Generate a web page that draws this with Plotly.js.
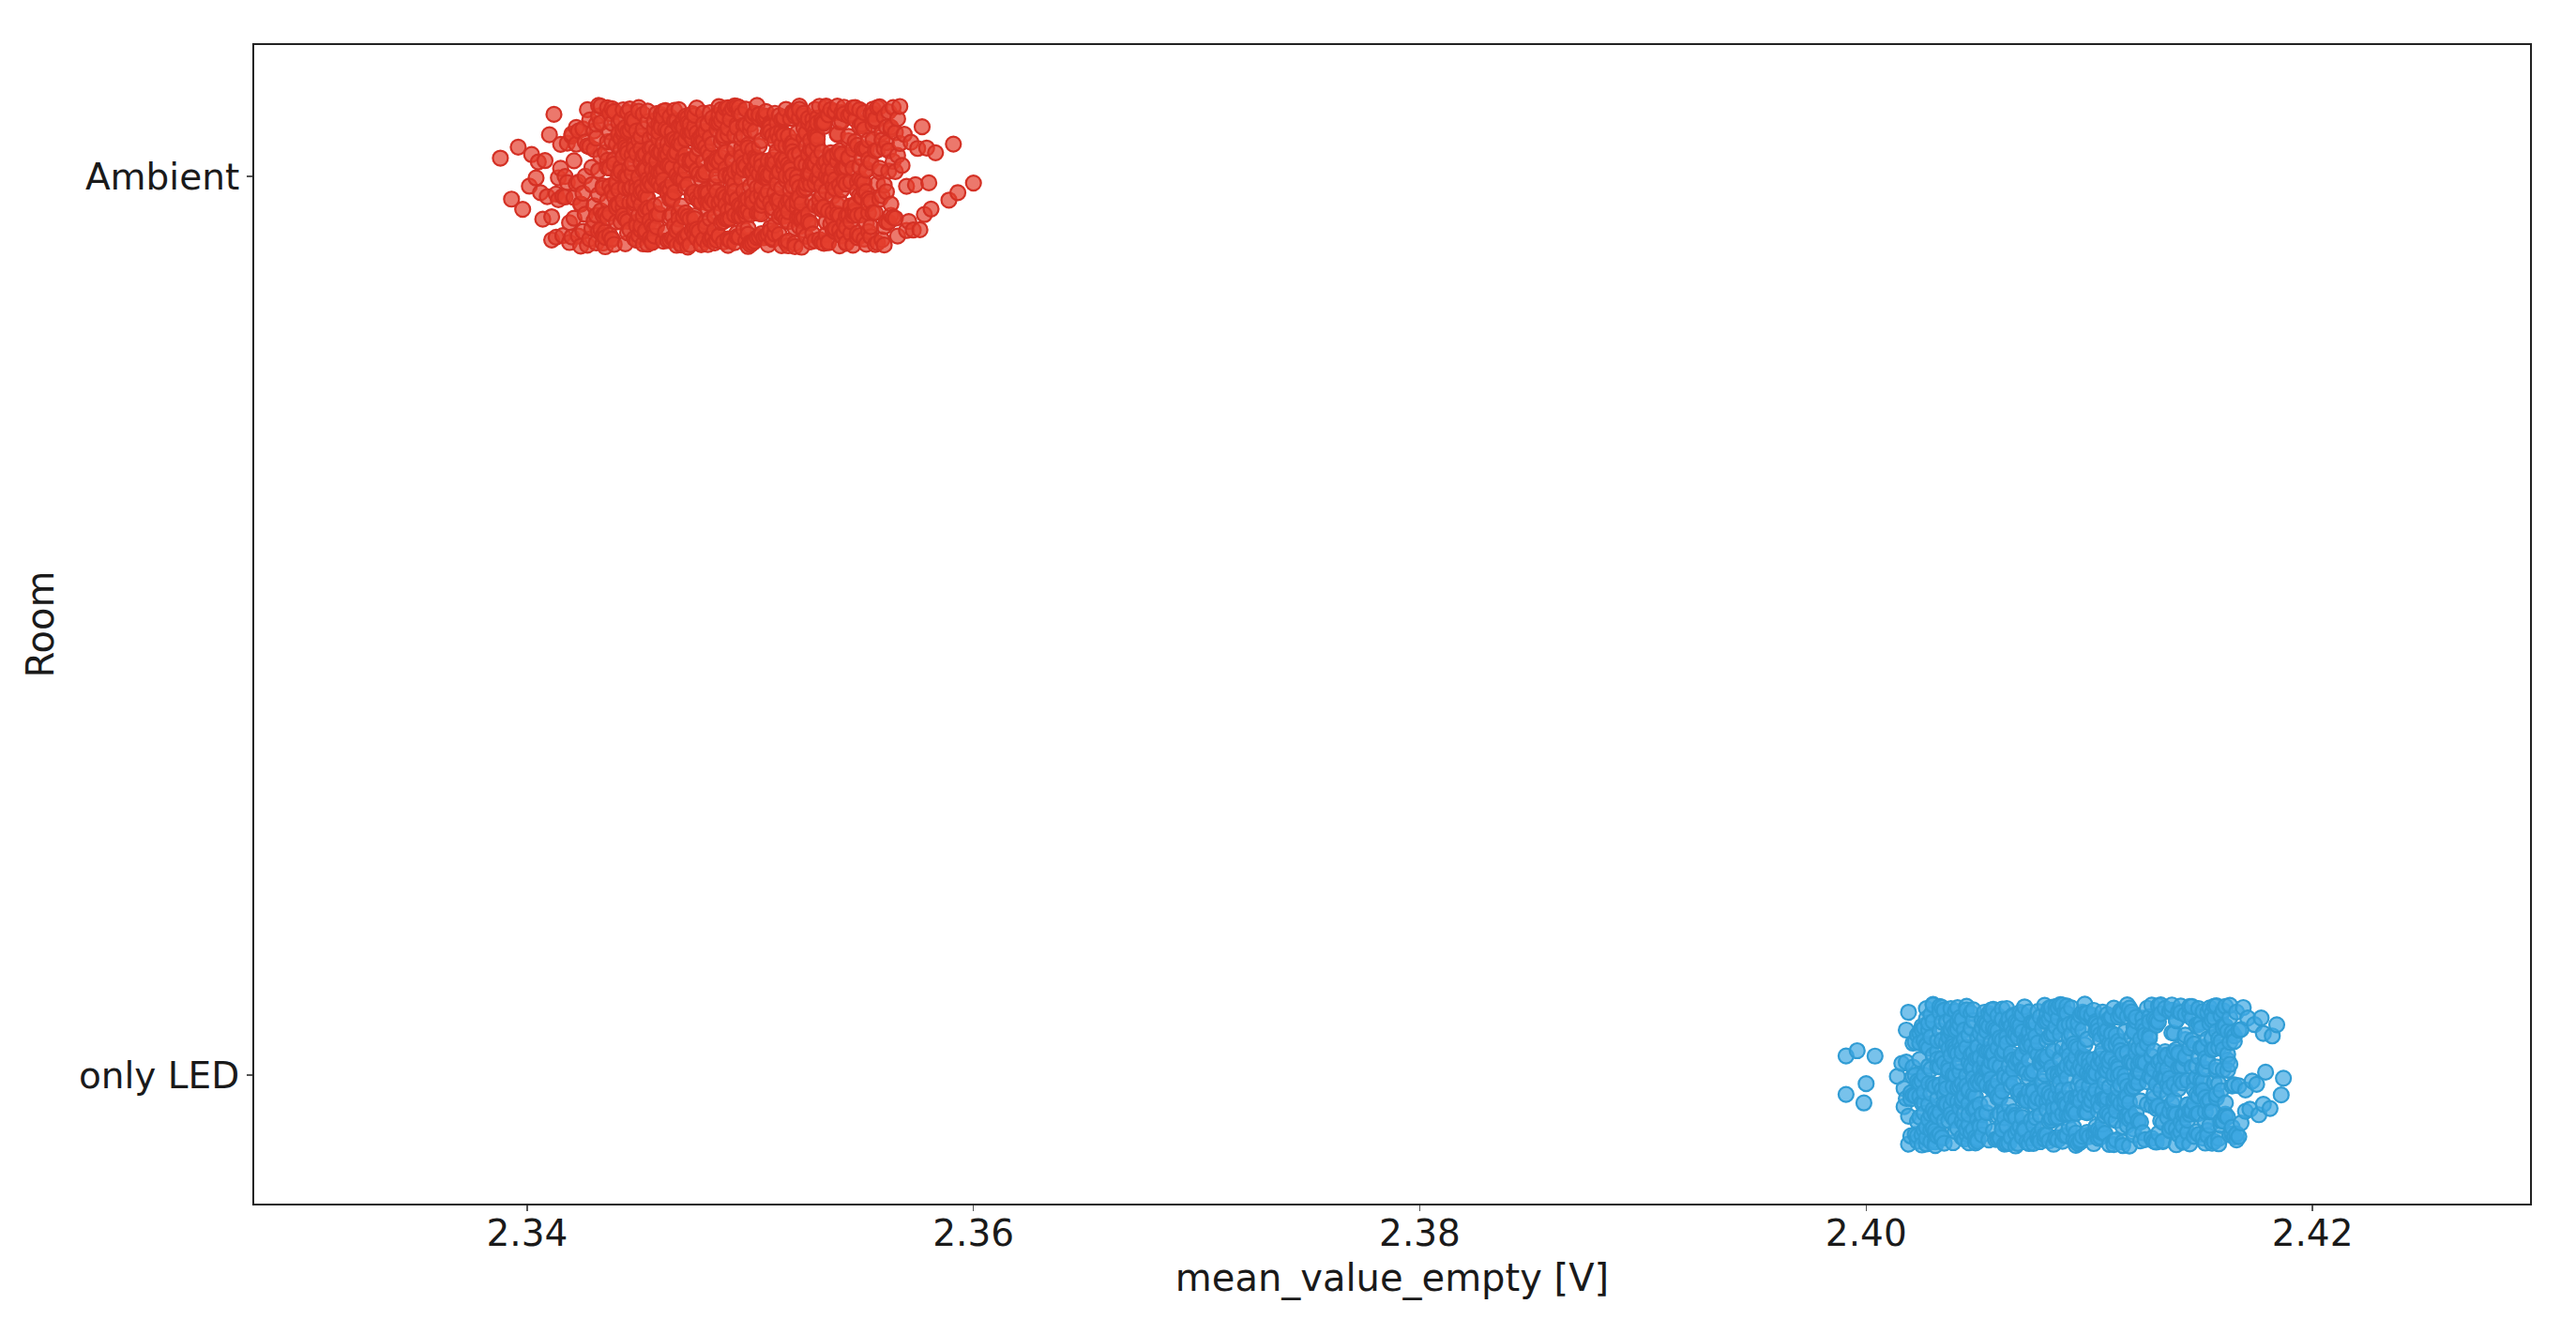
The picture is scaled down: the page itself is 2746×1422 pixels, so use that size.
<!DOCTYPE html>
<html>
<head>
<meta charset="utf-8">
<script src="https://cdn.plot.ly/plotly-3.0.1.min.js"></script>
<style>
html,body{margin:0;padding:0;background:#fff;}
#chart{width:2746px;height:1422px;}
</style>
</head>
<body>
<div id="chart"></div>
<script>
// Categories (bottom to top)
const rooms = ['only LED', 'Ambient'];
const xTickVals = [2.34, 2.36, 2.38, 2.40, 2.42];
const xTickText = ['2.34', '2.36', '2.38', '2.40', '2.42'];

// mean_value_empty [V] — Ambient room
const ambientValues = [
2.3388,
2.3393,2.3396,2.3398,
2.3401,2.3402,2.3404,2.3405,2.3406,2.3407,2.3408,2.3409,
2.3410,2.3411,2.3411,2.3412,2.3413,2.3413,2.3414,2.3414,2.3415,2.3415,2.3416,2.3416,2.3417,2.3417,2.3418,2.3418,2.3419,2.3419,
2.3420,2.3420,2.3420,2.3421,2.3421,2.3421,2.3422,2.3422,2.3422,2.3423,2.3423,2.3423,2.3424,2.3424,2.3424,2.3425,2.3425,2.3425,2.3426,2.3426,2.3426,2.3427,2.3427,2.3427,2.3428,2.3428,2.3428,2.3429,2.3429,2.3429,
2.3430,2.3430,2.3430,2.3430,2.3431,2.3431,2.3431,2.3431,2.3432,2.3432,2.3432,2.3432,2.3432,2.3433,2.3433,2.3433,2.3433,2.3433,2.3434,2.3434,2.3434,2.3434,2.3434,2.3435,2.3435,2.3435,2.3435,2.3435,2.3436,2.3436,2.3436,2.3436,2.3436,2.3436,2.3437,2.3437,2.3437,2.3437,2.3437,2.3437,2.3438,2.3438,2.3438,2.3438,2.3438,2.3438,2.3439,2.3439,2.3439,2.3439,2.3439,2.3439,
2.3440,2.3440,2.3440,2.3440,2.3440,2.3440,2.3441,2.3441,2.3441,2.3441,2.3441,2.3441,2.3442,2.3442,2.3442,2.3442,2.3442,2.3442,2.3443,2.3443,2.3443,2.3443,2.3443,2.3443,2.3443,2.3444,2.3444,2.3444,2.3444,2.3444,2.3444,2.3444,2.3445,2.3445,2.3445,2.3445,2.3445,2.3445,2.3445,2.3446,2.3446,2.3446,2.3446,2.3446,2.3446,2.3447,2.3447,2.3447,2.3447,2.3447,2.3447,2.3447,2.3448,2.3448,2.3448,2.3448,2.3448,2.3448,2.3448,2.3449,2.3449,2.3449,2.3449,2.3449,2.3449,2.3449,
2.3450,2.3450,2.3450,2.3450,2.3450,2.3450,2.3450,2.3451,2.3451,2.3451,2.3451,2.3451,2.3451,2.3451,2.3451,2.3452,2.3452,2.3452,2.3452,2.3452,2.3452,2.3452,2.3453,2.3453,2.3453,2.3453,2.3453,2.3453,2.3453,2.3453,2.3454,2.3454,2.3454,2.3454,2.3454,2.3454,2.3454,2.3455,2.3455,2.3455,2.3455,2.3455,2.3455,2.3455,2.3456,2.3456,2.3456,2.3456,2.3456,2.3456,2.3456,2.3456,2.3457,2.3457,2.3457,2.3457,2.3457,2.3457,2.3457,2.3458,2.3458,2.3458,2.3458,2.3458,2.3458,2.3458,2.3458,2.3459,2.3459,2.3459,2.3459,2.3459,2.3459,2.3459,
2.3460,2.3460,2.3460,2.3460,2.3460,2.3460,2.3460,2.3460,2.3461,2.3461,2.3461,2.3461,2.3461,2.3461,2.3461,2.3462,2.3462,2.3462,2.3462,2.3462,2.3462,2.3462,2.3463,2.3463,2.3463,2.3463,2.3463,2.3463,2.3463,2.3463,2.3464,2.3464,2.3464,2.3464,2.3464,2.3464,2.3464,2.3465,2.3465,2.3465,2.3465,2.3465,2.3465,2.3465,2.3465,2.3466,2.3466,2.3466,2.3466,2.3466,2.3466,2.3466,2.3467,2.3467,2.3467,2.3467,2.3467,2.3467,2.3467,2.3468,2.3468,2.3468,2.3468,2.3468,2.3468,2.3468,2.3469,2.3469,2.3469,2.3469,2.3469,2.3469,2.3469,2.3469,
2.3470,2.3470,2.3470,2.3470,2.3470,2.3470,2.3470,2.3471,2.3471,2.3471,2.3471,2.3471,2.3471,2.3471,2.3471,2.3472,2.3472,2.3472,2.3472,2.3472,2.3472,2.3472,2.3473,2.3473,2.3473,2.3473,2.3473,2.3473,2.3473,2.3473,2.3474,2.3474,2.3474,2.3474,2.3474,2.3474,2.3474,2.3475,2.3475,2.3475,2.3475,2.3475,2.3475,2.3475,2.3476,2.3476,2.3476,2.3476,2.3476,2.3476,2.3476,2.3476,2.3477,2.3477,2.3477,2.3477,2.3477,2.3477,2.3477,2.3478,2.3478,2.3478,2.3478,2.3478,2.3478,2.3478,2.3478,2.3479,2.3479,2.3479,2.3479,2.3479,2.3479,2.3479,
2.3480,2.3480,2.3480,2.3480,2.3480,2.3480,2.3480,2.3480,2.3481,2.3481,2.3481,2.3481,2.3481,2.3481,2.3481,2.3482,2.3482,2.3482,2.3482,2.3482,2.3482,2.3482,2.3483,2.3483,2.3483,2.3483,2.3483,2.3483,2.3483,2.3483,2.3484,2.3484,2.3484,2.3484,2.3484,2.3484,2.3484,2.3485,2.3485,2.3485,2.3485,2.3485,2.3485,2.3485,2.3485,2.3486,2.3486,2.3486,2.3486,2.3486,2.3486,2.3486,2.3487,2.3487,2.3487,2.3487,2.3487,2.3487,2.3487,2.3488,2.3488,2.3488,2.3488,2.3488,2.3488,2.3488,2.3489,2.3489,2.3489,2.3489,2.3489,2.3489,2.3489,2.3489,
2.3490,2.3490,2.3490,2.3490,2.3490,2.3490,2.3490,2.3491,2.3491,2.3491,2.3491,2.3491,2.3491,2.3491,2.3491,2.3492,2.3492,2.3492,2.3492,2.3492,2.3492,2.3492,2.3493,2.3493,2.3493,2.3493,2.3493,2.3493,2.3493,2.3493,2.3494,2.3494,2.3494,2.3494,2.3494,2.3494,2.3494,2.3495,2.3495,2.3495,2.3495,2.3495,2.3495,2.3495,2.3496,2.3496,2.3496,2.3496,2.3496,2.3496,2.3496,2.3496,2.3497,2.3497,2.3497,2.3497,2.3497,2.3497,2.3497,2.3498,2.3498,2.3498,2.3498,2.3498,2.3498,2.3498,2.3498,2.3499,2.3499,2.3499,2.3499,2.3499,2.3499,2.3499,
2.3500,2.3500,2.3500,2.3500,2.3500,2.3500,2.3500,2.3500,2.3501,2.3501,2.3501,2.3501,2.3501,2.3501,2.3501,2.3502,2.3502,2.3502,2.3502,2.3502,2.3502,2.3502,2.3503,2.3503,2.3503,2.3503,2.3503,2.3503,2.3503,2.3503,2.3504,2.3504,2.3504,2.3504,2.3504,2.3504,2.3504,2.3505,2.3505,2.3505,2.3505,2.3505,2.3505,2.3505,2.3505,2.3506,2.3506,2.3506,2.3506,2.3506,2.3506,2.3506,2.3507,2.3507,2.3507,2.3507,2.3507,2.3507,2.3507,2.3508,2.3508,2.3508,2.3508,2.3508,2.3508,2.3508,2.3509,2.3509,2.3509,2.3509,2.3509,2.3509,2.3509,2.3509,
2.3510,2.3510,2.3510,2.3510,2.3510,2.3510,2.3510,2.3511,2.3511,2.3511,2.3511,2.3511,2.3511,2.3511,2.3511,2.3512,2.3512,2.3512,2.3512,2.3512,2.3512,2.3512,2.3513,2.3513,2.3513,2.3513,2.3513,2.3513,2.3513,2.3513,2.3514,2.3514,2.3514,2.3514,2.3514,2.3514,2.3514,2.3515,2.3515,2.3515,2.3515,2.3515,2.3515,2.3515,2.3516,2.3516,2.3516,2.3516,2.3516,2.3516,2.3516,2.3516,2.3517,2.3517,2.3517,2.3517,2.3517,2.3517,2.3517,2.3518,2.3518,2.3518,2.3518,2.3518,2.3518,2.3518,2.3518,2.3519,2.3519,2.3519,2.3519,2.3519,2.3519,2.3519,
2.3520,2.3520,2.3520,2.3520,2.3520,2.3520,2.3520,2.3521,2.3521,2.3521,2.3521,2.3521,2.3521,2.3521,2.3522,2.3522,2.3522,2.3522,2.3522,2.3522,2.3522,2.3522,2.3523,2.3523,2.3523,2.3523,2.3523,2.3523,2.3523,2.3524,2.3524,2.3524,2.3524,2.3524,2.3524,2.3524,2.3525,2.3525,2.3525,2.3525,2.3525,2.3525,2.3525,2.3526,2.3526,2.3526,2.3526,2.3526,2.3526,2.3526,2.3526,2.3527,2.3527,2.3527,2.3527,2.3527,2.3527,2.3527,2.3528,2.3528,2.3528,2.3528,2.3528,2.3528,2.3528,2.3529,2.3529,2.3529,2.3529,2.3529,2.3529,2.3529,
2.3530,2.3530,2.3530,2.3530,2.3530,2.3530,2.3530,2.3531,2.3531,2.3531,2.3531,2.3531,2.3531,2.3531,2.3532,2.3532,2.3532,2.3532,2.3532,2.3532,2.3532,2.3533,2.3533,2.3533,2.3533,2.3533,2.3533,2.3533,2.3534,2.3534,2.3534,2.3534,2.3534,2.3534,2.3534,2.3535,2.3535,2.3535,2.3535,2.3535,2.3535,2.3536,2.3536,2.3536,2.3536,2.3536,2.3536,2.3536,2.3537,2.3537,2.3537,2.3537,2.3537,2.3537,2.3537,2.3538,2.3538,2.3538,2.3538,2.3538,2.3538,2.3539,2.3539,2.3539,2.3539,2.3539,2.3539,2.3539,
2.3540,2.3540,2.3540,2.3540,2.3540,2.3540,2.3540,2.3541,2.3541,2.3541,2.3541,2.3541,2.3541,2.3541,2.3542,2.3542,2.3542,2.3542,2.3542,2.3542,2.3543,2.3543,2.3543,2.3543,2.3543,2.3543,2.3544,2.3544,2.3544,2.3544,2.3544,2.3544,2.3545,2.3545,2.3545,2.3545,2.3545,2.3545,2.3546,2.3546,2.3546,2.3546,2.3546,2.3546,2.3547,2.3547,2.3547,2.3547,2.3547,2.3547,2.3548,2.3548,2.3548,2.3548,2.3548,2.3548,2.3549,2.3549,2.3549,2.3549,2.3549,2.3549,
2.3550,2.3550,2.3550,2.3550,2.3550,2.3550,2.3550,2.3551,2.3551,2.3551,2.3551,2.3551,2.3551,2.3552,2.3552,2.3552,2.3552,2.3552,2.3552,2.3553,2.3553,2.3553,2.3553,2.3553,2.3553,2.3554,2.3554,2.3554,2.3554,2.3554,2.3555,2.3555,2.3555,2.3555,2.3555,2.3556,2.3556,2.3556,2.3556,2.3556,2.3557,2.3557,2.3557,2.3557,2.3558,2.3558,2.3558,2.3558,2.3559,2.3559,2.3559,2.3559,
2.3560,2.3560,2.3560,2.3560,2.3560,2.3561,2.3561,2.3561,2.3561,2.3562,2.3562,2.3562,2.3562,2.3563,2.3563,2.3563,2.3563,2.3564,2.3564,2.3564,2.3565,2.3565,2.3565,2.3566,2.3566,2.3566,2.3567,2.3567,2.3568,2.3569,
2.3570,2.3570,2.3571,2.3572,2.3573,2.3574,2.3575,2.3576,2.3577,2.3578,2.3579,
2.3580,2.3581,2.3583,2.3589,
2.3591,2.3593,2.3600
];

// mean_value_empty [V] — only LED room
const onlyLedValues = [
2.3991,2.3991,2.3996,2.3999,2.4000,2.4004,
2.4014,2.4016,2.4017,2.4017,2.4018,2.4018,2.4018,2.4019,2.4019,2.4019,
2.4020,2.4020,2.4020,2.4021,2.4021,2.4021,2.4021,2.4022,2.4022,2.4022,2.4022,2.4023,2.4023,2.4023,2.4023,2.4023,2.4024,2.4024,2.4024,2.4024,2.4024,2.4024,2.4025,2.4025,2.4025,2.4025,2.4025,2.4025,2.4026,2.4026,2.4026,2.4026,2.4026,2.4026,2.4026,2.4027,2.4027,2.4027,2.4027,2.4027,2.4027,2.4027,2.4028,2.4028,2.4028,2.4028,2.4028,2.4028,2.4028,2.4029,2.4029,2.4029,2.4029,2.4029,2.4029,2.4029,
2.4030,2.4030,2.4030,2.4030,2.4030,2.4030,2.4030,2.4031,2.4031,2.4031,2.4031,2.4031,2.4031,2.4031,2.4032,2.4032,2.4032,2.4032,2.4032,2.4032,2.4032,2.4033,2.4033,2.4033,2.4033,2.4033,2.4033,2.4033,2.4034,2.4034,2.4034,2.4034,2.4034,2.4034,2.4034,2.4035,2.4035,2.4035,2.4035,2.4035,2.4035,2.4035,2.4036,2.4036,2.4036,2.4036,2.4036,2.4036,2.4036,2.4037,2.4037,2.4037,2.4037,2.4037,2.4037,2.4037,2.4037,2.4038,2.4038,2.4038,2.4038,2.4038,2.4038,2.4038,2.4039,2.4039,2.4039,2.4039,2.4039,2.4039,2.4039,2.4039,
2.4040,2.4040,2.4040,2.4040,2.4040,2.4040,2.4040,2.4041,2.4041,2.4041,2.4041,2.4041,2.4041,2.4041,2.4041,2.4042,2.4042,2.4042,2.4042,2.4042,2.4042,2.4042,2.4043,2.4043,2.4043,2.4043,2.4043,2.4043,2.4043,2.4043,2.4044,2.4044,2.4044,2.4044,2.4044,2.4044,2.4044,2.4045,2.4045,2.4045,2.4045,2.4045,2.4045,2.4045,2.4046,2.4046,2.4046,2.4046,2.4046,2.4046,2.4046,2.4046,2.4047,2.4047,2.4047,2.4047,2.4047,2.4047,2.4047,2.4048,2.4048,2.4048,2.4048,2.4048,2.4048,2.4048,2.4048,2.4049,2.4049,2.4049,2.4049,2.4049,2.4049,2.4049,
2.4050,2.4050,2.4050,2.4050,2.4050,2.4050,2.4050,2.4050,2.4051,2.4051,2.4051,2.4051,2.4051,2.4051,2.4051,2.4052,2.4052,2.4052,2.4052,2.4052,2.4052,2.4052,2.4053,2.4053,2.4053,2.4053,2.4053,2.4053,2.4053,2.4053,2.4054,2.4054,2.4054,2.4054,2.4054,2.4054,2.4054,2.4055,2.4055,2.4055,2.4055,2.4055,2.4055,2.4055,2.4055,2.4056,2.4056,2.4056,2.4056,2.4056,2.4056,2.4056,2.4057,2.4057,2.4057,2.4057,2.4057,2.4057,2.4057,2.4058,2.4058,2.4058,2.4058,2.4058,2.4058,2.4058,2.4059,2.4059,2.4059,2.4059,2.4059,2.4059,2.4059,2.4059,
2.4060,2.4060,2.4060,2.4060,2.4060,2.4060,2.4060,2.4061,2.4061,2.4061,2.4061,2.4061,2.4061,2.4061,2.4061,2.4062,2.4062,2.4062,2.4062,2.4062,2.4062,2.4062,2.4063,2.4063,2.4063,2.4063,2.4063,2.4063,2.4063,2.4063,2.4064,2.4064,2.4064,2.4064,2.4064,2.4064,2.4064,2.4065,2.4065,2.4065,2.4065,2.4065,2.4065,2.4065,2.4066,2.4066,2.4066,2.4066,2.4066,2.4066,2.4066,2.4066,2.4067,2.4067,2.4067,2.4067,2.4067,2.4067,2.4067,2.4068,2.4068,2.4068,2.4068,2.4068,2.4068,2.4068,2.4068,2.4069,2.4069,2.4069,2.4069,2.4069,2.4069,2.4069,
2.4070,2.4070,2.4070,2.4070,2.4070,2.4070,2.4070,2.4070,2.4071,2.4071,2.4071,2.4071,2.4071,2.4071,2.4071,2.4072,2.4072,2.4072,2.4072,2.4072,2.4072,2.4072,2.4073,2.4073,2.4073,2.4073,2.4073,2.4073,2.4073,2.4073,2.4074,2.4074,2.4074,2.4074,2.4074,2.4074,2.4074,2.4075,2.4075,2.4075,2.4075,2.4075,2.4075,2.4075,2.4075,2.4076,2.4076,2.4076,2.4076,2.4076,2.4076,2.4076,2.4077,2.4077,2.4077,2.4077,2.4077,2.4077,2.4077,2.4078,2.4078,2.4078,2.4078,2.4078,2.4078,2.4078,2.4079,2.4079,2.4079,2.4079,2.4079,2.4079,2.4079,2.4079,
2.4080,2.4080,2.4080,2.4080,2.4080,2.4080,2.4080,2.4081,2.4081,2.4081,2.4081,2.4081,2.4081,2.4081,2.4081,2.4082,2.4082,2.4082,2.4082,2.4082,2.4082,2.4082,2.4083,2.4083,2.4083,2.4083,2.4083,2.4083,2.4083,2.4083,2.4084,2.4084,2.4084,2.4084,2.4084,2.4084,2.4084,2.4085,2.4085,2.4085,2.4085,2.4085,2.4085,2.4085,2.4086,2.4086,2.4086,2.4086,2.4086,2.4086,2.4086,2.4086,2.4087,2.4087,2.4087,2.4087,2.4087,2.4087,2.4087,2.4088,2.4088,2.4088,2.4088,2.4088,2.4088,2.4088,2.4088,2.4089,2.4089,2.4089,2.4089,2.4089,2.4089,2.4089,
2.4090,2.4090,2.4090,2.4090,2.4090,2.4090,2.4090,2.4090,2.4091,2.4091,2.4091,2.4091,2.4091,2.4091,2.4091,2.4092,2.4092,2.4092,2.4092,2.4092,2.4092,2.4092,2.4093,2.4093,2.4093,2.4093,2.4093,2.4093,2.4093,2.4093,2.4094,2.4094,2.4094,2.4094,2.4094,2.4094,2.4094,2.4095,2.4095,2.4095,2.4095,2.4095,2.4095,2.4095,2.4095,2.4096,2.4096,2.4096,2.4096,2.4096,2.4096,2.4096,2.4097,2.4097,2.4097,2.4097,2.4097,2.4097,2.4097,2.4098,2.4098,2.4098,2.4098,2.4098,2.4098,2.4098,2.4099,2.4099,2.4099,2.4099,2.4099,2.4099,2.4099,2.4099,
2.4100,2.4100,2.4100,2.4100,2.4100,2.4100,2.4100,2.4101,2.4101,2.4101,2.4101,2.4101,2.4101,2.4101,2.4101,2.4102,2.4102,2.4102,2.4102,2.4102,2.4102,2.4102,2.4103,2.4103,2.4103,2.4103,2.4103,2.4103,2.4103,2.4103,2.4104,2.4104,2.4104,2.4104,2.4104,2.4104,2.4104,2.4105,2.4105,2.4105,2.4105,2.4105,2.4105,2.4105,2.4106,2.4106,2.4106,2.4106,2.4106,2.4106,2.4106,2.4106,2.4107,2.4107,2.4107,2.4107,2.4107,2.4107,2.4107,2.4108,2.4108,2.4108,2.4108,2.4108,2.4108,2.4108,2.4108,2.4109,2.4109,2.4109,2.4109,2.4109,2.4109,2.4109,
2.4110,2.4110,2.4110,2.4110,2.4110,2.4110,2.4110,2.4111,2.4111,2.4111,2.4111,2.4111,2.4111,2.4111,2.4112,2.4112,2.4112,2.4112,2.4112,2.4112,2.4112,2.4113,2.4113,2.4113,2.4113,2.4113,2.4113,2.4113,2.4114,2.4114,2.4114,2.4114,2.4114,2.4114,2.4114,2.4115,2.4115,2.4115,2.4115,2.4115,2.4115,2.4116,2.4116,2.4116,2.4116,2.4116,2.4116,2.4116,2.4117,2.4117,2.4117,2.4117,2.4117,2.4117,2.4117,2.4118,2.4118,2.4118,2.4118,2.4118,2.4118,2.4119,2.4119,2.4119,2.4119,2.4119,2.4119,2.4119,
2.4120,2.4120,2.4120,2.4120,2.4120,2.4120,2.4120,2.4121,2.4121,2.4121,2.4121,2.4121,2.4121,2.4121,2.4122,2.4122,2.4122,2.4122,2.4122,2.4122,2.4123,2.4123,2.4123,2.4123,2.4123,2.4123,2.4124,2.4124,2.4124,2.4124,2.4124,2.4125,2.4125,2.4125,2.4125,2.4126,2.4126,2.4126,2.4126,2.4127,2.4127,2.4127,2.4127,2.4127,2.4128,2.4128,2.4128,2.4128,2.4128,2.4128,2.4129,2.4129,2.4129,2.4129,2.4129,2.4129,
2.4130,2.4130,2.4130,2.4130,2.4130,2.4130,2.4131,2.4131,2.4131,2.4131,2.4131,2.4131,2.4132,2.4132,2.4132,2.4132,2.4132,2.4132,2.4133,2.4133,2.4133,2.4133,2.4133,2.4133,2.4134,2.4134,2.4134,2.4134,2.4134,2.4134,2.4135,2.4135,2.4135,2.4135,2.4135,2.4136,2.4136,2.4136,2.4136,2.4136,2.4136,2.4137,2.4137,2.4137,2.4137,2.4137,2.4137,2.4138,2.4138,2.4138,2.4138,2.4138,2.4139,2.4139,2.4139,2.4139,2.4139,2.4139,
2.4140,2.4140,2.4140,2.4140,2.4140,2.4140,2.4141,2.4141,2.4141,2.4141,2.4141,2.4141,2.4142,2.4142,2.4142,2.4142,2.4142,2.4142,2.4143,2.4143,2.4143,2.4143,2.4143,2.4143,2.4144,2.4144,2.4144,2.4144,2.4144,2.4145,2.4145,2.4145,2.4145,2.4145,2.4145,2.4146,2.4146,2.4146,2.4146,2.4146,2.4146,2.4147,2.4147,2.4147,2.4147,2.4147,2.4148,2.4148,2.4148,2.4148,2.4148,2.4148,2.4149,2.4149,2.4149,2.4149,2.4149,2.4149,
2.4150,2.4150,2.4150,2.4150,2.4150,2.4150,2.4151,2.4151,2.4151,2.4151,2.4151,2.4151,2.4152,2.4152,2.4152,2.4152,2.4152,2.4152,2.4153,2.4153,2.4153,2.4153,2.4153,2.4153,2.4154,2.4154,2.4154,2.4154,2.4154,2.4155,2.4155,2.4155,2.4155,2.4155,2.4155,2.4156,2.4156,2.4156,2.4156,2.4156,2.4157,2.4157,2.4157,2.4157,2.4157,2.4157,2.4158,2.4158,2.4158,2.4158,2.4158,2.4159,2.4159,2.4159,2.4159,2.4159,
2.4160,2.4160,2.4160,2.4160,2.4160,2.4160,2.4161,2.4161,2.4161,2.4161,2.4161,2.4162,2.4162,2.4162,2.4162,2.4162,2.4163,2.4163,2.4163,2.4163,2.4163,2.4164,2.4164,2.4164,2.4164,2.4165,2.4165,2.4165,2.4165,2.4166,2.4166,2.4166,2.4167,2.4167,2.4167,2.4168,2.4168,2.4169,
2.4170,2.4170,2.4171,2.4172,2.4173,2.4174,2.4175,2.4176,2.4177,2.4178,2.4178,2.4179,
2.4181,2.4182,2.4184,2.4186,2.4187
];

const seriesValues = [onlyLedValues, ambientValues];
const fillColors = ['rgba(62,168,226,0.7)', 'rgba(228,62,46,0.7)'];
const edgeColors = ['rgb(48,156,212)', 'rgb(212,48,36)'];

const traces = rooms.map((room, i) => ({
  type: 'box',
  orientation: 'h',
  name: room,
  x: seriesValues[i],
  y: seriesValues[i].map(() => room),
  boxpoints: 'all',
  jitter: 1,
  pointpos: 0,
  width: 0.158,
  fillcolor: 'rgba(0,0,0,0)',
  line: {width: 0, color: 'rgba(0,0,0,0)'},
  whiskerwidth: 0,
  marker: {size: 16, color: fillColors[i], line: {color: edgeColors[i], width: 2.2}},
  hoveron: 'points',
  showlegend: false
}));

const fontFamily = '"DejaVu Sans", Verdana, sans-serif';

const layout = {
  width: 2746,
  height: 1422,
  margin: {l: 271, r: 49, t: 48, b: 139},
  paper_bgcolor: '#ffffff',
  plot_bgcolor: '#ffffff',
  showlegend: false,
  boxmode: 'overlay',
  font: {family: fontFamily, color: '#1a1a1a', size: 39},
  xaxis: {
    range: [2.32777, 2.42975],
    tickvals: xTickVals,
    ticktext: xTickText,
    showgrid: false,
    zeroline: false,
    showline: true,
    mirror: true,
    linecolor: '#222222',
    linewidth: 2,
    ticks: 'outside',
    ticklen: 6,
    tickwidth: 1.5,
    tickcolor: '#555555',
    ticklabelstandoff: -10,
    tickfont: {family: fontFamily, size: 39, color: '#1a1a1a'},
    title: {text: 'mean_value_empty [V]', font: {family: fontFamily, size: 40, color: '#1a1a1a'}, standoff: 12},
    automargin: false
  },
  yaxis: {
    type: 'category',
    categoryorder: 'array',
    categoryarray: rooms,
    range: [-0.143, 1.146],
    showgrid: false,
    zeroline: false,
    showline: true,
    mirror: true,
    linecolor: '#222222',
    linewidth: 2,
    ticks: 'outside',
    ticklen: 6,
    tickwidth: 1.5,
    tickcolor: '#555555',
    tickfont: {family: fontFamily, size: 39, color: '#1a1a1a'},
    title: {text: 'Room', font: {family: fontFamily, size: 40, color: '#1a1a1a'}, standoff: 14},
    automargin: false
  }
};

Plotly.newPlot('chart', traces, layout, {displayModeBar: false, staticPlot: true});
</script>
</body>
</html>
